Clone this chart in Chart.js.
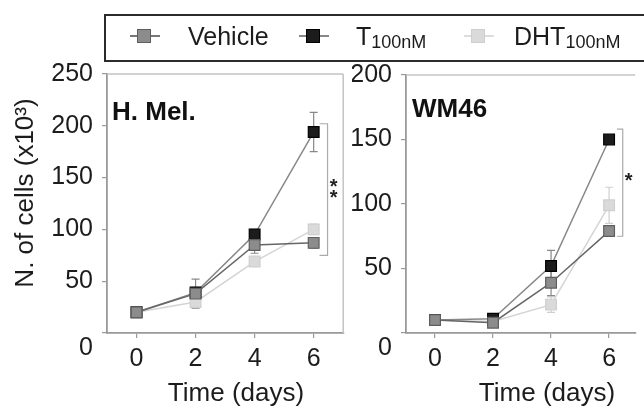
<!DOCTYPE html>
<html><head><meta charset="utf-8">
<script src="https://cdn.jsdelivr.net/npm/chart.js@4/dist/chart.umd.min.js"></script>
<style>
html,body{margin:0;padding:0;background:#fff;width:644px;height:407px;overflow:hidden;font-family:"Liberation Sans",Arial,sans-serif;color:#1c1c1c;}
canvas{position:absolute;top:0;}
#c1{left:0;}
#c2{left:352px;}
#legend{position:absolute;left:104px;top:14px;width:600px;height:44px;border:2px solid #2b2b2b;}
.ll{position:absolute;height:2px;width:30px;top:35px;}
.ls{position:absolute;width:12px;height:12px;top:29px;border:1.5px solid;}
.lt{position:absolute;top:24px;font-size:25px;line-height:25px;white-space:nowrap;}
.lt sub{font-size:18px;vertical-align:-3px;line-height:0;}
</style>
</head><body>
<canvas id="c1" width="352" height="407"></canvas>
<canvas id="c2" width="292" height="407"></canvas>
<div id="legend"></div>
<div class="ll" style="left:130px;background:#777"></div><div class="ls" style="left:137px;background:#8c8c8c;border-color:#5e5e5e"></div>
<div class="lt" style="left:188px">Vehicle</div>
<div class="ll" style="left:299px;background:#888"></div><div class="ls" style="left:306px;background:#1c1c1c;border-color:#000"></div>
<div class="lt" style="left:356px">T<sub>100nM</sub></div>
<div class="ll" style="left:464px;background:#ddd"></div><div class="ls" style="left:471px;background:#dadada;border-color:#cfcfcf"></div>
<div class="lt" style="left:514px">DHT<sub>100nM</sub></div>
<script>
// ---- data ----
const days = [0, 2, 4, 6];
const xTicks = [0, 2, 4, 6];
const melYTicks = [0, 50, 100, 150, 200, 250];
const wmYTicks = [0, 50, 100, 150, 200];
const seriesNames = ['Vehicle', 'T100nM', 'DHT100nM'];

const melVehicle = [20, 38, 85, 87];
const melVehicleErr = [1, 14, 8, 5];
const melT = [20, 39, 95, 194];
const melTErr = [1, 5, 5, 19];
const melDHT = [20, 30, 69, 100];
const melDHTErr = [1, 4, 4, 5];

const wmVehicle = [10, 8, 39, 79];
const wmVehicleErr = [1, 1, 10, 4];
const wmT = [10, 11, 52, 150];
const wmTErr = [1, 1, 12, 2];
const wmDHT = [10, 9, 22, 99];
const wmDHTErr = [1, 1, 6, 14];

const FONT = '"Liberation Sans", Arial, sans-serif';

function makeDatasets(v, ve, t, te, d, de) {
  return [
    {label: seriesNames[0], data: days.map((x,i)=>({x, y: v[i]})), errorBars: ve, errColor:'#8a8a8a',
     borderColor:'#666', backgroundColor:'#8c8c8c', pointBorderColor:'#5e5e5e'},
    {label: seriesNames[1], data: days.map((x,i)=>({x, y: t[i]})), errorBars: te, errColor:'#888',
     borderColor:'#888', backgroundColor:'#1c1c1c', pointBorderColor:'#000'},
    {label: seriesNames[2], data: days.map((x,i)=>({x, y: d[i]})), errorBars: de, errColor:'#cfcfcf',
     borderColor:'#d4d4d4', backgroundColor:'#dadada', pointBorderColor:'#cfcfcf'}
  ].map(ds => Object.assign(ds, {pointStyle:'rect', pointRadius:7.6, pointBorderWidth:1.2, borderWidth:1.5,
     pointBackgroundColor: ds.backgroundColor, tension:0}));
}

const panelPlugin = {
  id: 'panel',
  beforeDatasetsDraw(chart, args, o) {
    const {ctx, scales:{x, y}} = chart;
    ctx.save();
    chart.data.datasets.slice().reverse().forEach(ds => {
      ctx.strokeStyle = ds.errColor; ctx.lineWidth = 1.2;
      ds.data.forEach((p, j) => {
        const e = ds.errorBars[j];
        if (e < 2) return;
        const px = x.getPixelForValue(p.x);
        const t = y.getPixelForValue(p.y + e), b = y.getPixelForValue(p.y - e);
        ctx.beginPath();
        ctx.moveTo(px, t); ctx.lineTo(px, b);
        ctx.moveTo(px-4, t); ctx.lineTo(px+4, t);
        ctx.moveTo(px-4, b); ctx.lineTo(px+4, b);
        ctx.stroke();
      });
    });
    ctx.restore();
  },
  afterDraw(chart, args, o) {
    const {ctx, chartArea: a, scales:{x, y}} = chart;
    ctx.save();
    // frame
    ctx.strokeStyle = '#c4c4c4'; ctx.lineWidth = 1.5;
    ctx.beginPath();
    ctx.moveTo(a.left, a.top); ctx.lineTo(a.right, a.top);
    if (o.rightBorder) { ctx.moveTo(a.right, a.top); ctx.lineTo(a.right, a.bottom); }
    ctx.stroke();
    // panel title
    ctx.fillStyle = '#111';
    ctx.font = 'bold 26px ' + FONT;
    ctx.textBaseline = 'middle'; ctx.textAlign = 'left';
    ctx.fillText(o.label, a.left + o.labelDx, o.labelY);
    // zero label (drawn below the axis line as in the figure)
    ctx.font = '25px ' + FONT; ctx.fillStyle = '#1c1c1c';
    ctx.textAlign = 'right';
    ctx.fillText('0', a.left - 14, a.bottom + 15);
    // significance bracket
    const bx = x.getPixelForValue(o.bracket.x), cx = x.getPixelForValue(o.bracket.capX);
    const by1 = y.getPixelForValue(o.bracket.hi), by2 = y.getPixelForValue(o.bracket.lo);
    ctx.strokeStyle = '#aaa'; ctx.lineWidth = 1.2;
    ctx.beginPath();
    ctx.moveTo(cx, by1); ctx.lineTo(bx, by1); ctx.lineTo(bx, by2); ctx.lineTo(cx, by2);
    ctx.stroke();
    ctx.fillStyle = '#222'; ctx.font = 'bold 20px ' + FONT;
    ctx.textAlign = 'center'; ctx.textBaseline = 'alphabetic';
    const mid = (by1 + by2) / 2;
    o.bracket.stars.forEach(dy => {
      ctx.fillText('*', bx + o.bracket.starDx, mid + dy + 11);
    });
    // axis titles
    ctx.fillStyle = '#1c1c1c'; ctx.font = '26px ' + FONT;
    ctx.textAlign = 'center'; ctx.textBaseline = 'alphabetic';
    ctx.fillText('Time (days)', o.xTitleX, 401);
    if (o.yTitle) {
      ctx.save();
      ctx.translate(33, 193);
      ctx.rotate(-Math.PI / 2);
      ctx.fillText(o.yTitle, 0, 0);
      ctx.restore();
    }
    ctx.restore();
  }
};

function makeChart(id, datasets, yMax, yTicks, xMax, leftW, padTop, padRight, panelOpts) {
  return new Chart(document.getElementById(id), {
    type: 'line',
    data: {datasets},
    plugins: [panelPlugin],
    options: {
      responsive: false, animation: false,
      layout: {padding: {top: padTop, right: padRight, left: 0, bottom: 0}},
      plugins: {legend: {display: false}, tooltip: {enabled: false}, panel: panelOpts},
      scales: {
        x: {type: 'linear', min: -1, max: xMax,
            afterBuildTicks: s => { s.ticks = xTicks.map(v => ({value: v})); },
            afterFit: s => { s.height = 407 - 333; },
            grid: {drawOnChartArea: false, drawTicks: true, tickLength: 5, color: '#999', lineWidth: 1.2},
            border: {display: true, color: '#999', width: 1.8},
            ticks: {font: {size: 25, family: FONT}, color: '#1c1c1c', padding: 6, maxRotation: 0}},
        y: {min: 0, max: yMax,
            afterBuildTicks: s => { s.ticks = yTicks.map(v => ({value: v})); },
            afterFit: s => { s.width = leftW; },
            grid: {drawOnChartArea: false, drawTicks: true, tickLength: 5, color: '#999', lineWidth: 1.2},
            border: {display: true, color: '#999', width: 1.8},
            ticks: {font: {size: 25, family: FONT}, color: '#1c1c1c', padding: 9,
                    callback: v => v === 0 ? '' : v}}
      }
    }
  });
}

makeChart('c1', makeDatasets(melVehicle, melVehicleErr, melT, melTErr, melDHT, melDHTErr),
  250, melYTicks, 7, 107, 74, 7,
  {label: 'H. Mel.', labelDx: 5, labelY: 113, rightBorder: true,
   bracket: {x: 6.47, capX: 6.2, hi: 202, lo: 75, starDx: 6, stars: [-7.5, 3.5]},
   xTitleX: 236, yTitle: 'N. of cells (x10³)'});

makeChart('c2', makeDatasets(wmVehicle, wmVehicleErr, wmT, wmTErr, wmDHT, wmDHTErr),
  200, wmYTicks, 6.9, 54, 75, 0,
  {label: 'WM46', labelDx: 6, labelY: 110, rightBorder: false,
   bracket: {x: 6.47, capX: 6.27, hi: 158, lo: 75, starDx: 6, stars: [-6.5]},
   xTitleX: 547 - 352, yTitle: null});
</script>
</body></html>
